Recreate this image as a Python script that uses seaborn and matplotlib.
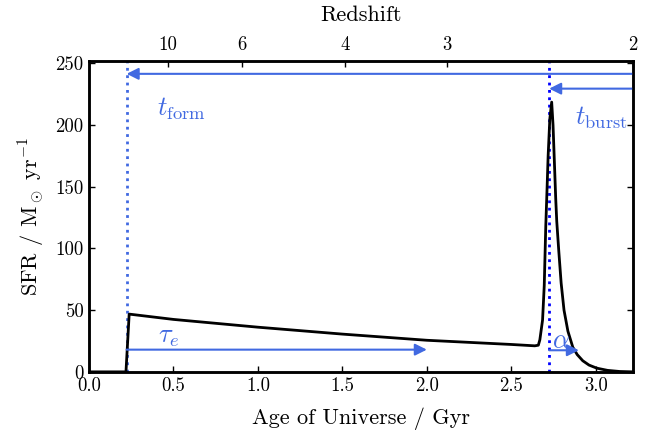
import matplotlib
matplotlib.use("Agg")
import matplotlib.pyplot as plt
import seaborn as sns
import pandas as pd

# Star formation history: delayed exponential main episode plus a late burst
age_gyr = [0.0, 0.219, 0.238, 0.5, 1.0, 1.5, 2.0, 2.5, 2.639, 2.660,
           2.669, 2.685, 2.695, 2.704, 2.712, 2.718, 2.728, 2.739, 2.747,
           2.755, 2.763, 2.769, 2.781, 2.795, 2.812, 2.835, 2.864, 2.89,
           2.923, 2.96, 3.006, 3.07, 3.142, 3.22]
sfr = [0.0, 0.0, 46.8, 42.5, 36.2, 30.6, 25.6, 22.2, 21.1, 21.6,
       26.0, 42.0, 70.0, 118.0, 150.0, 175.0, 205.0, 218.6, 200.0,
       170.0, 140.0, 122.0, 98.0, 72.0, 50.0, 33.0, 20.0, 14.0,
       9.0, 5.5, 3.0, 1.2, 0.3, 0.0]

# Redshift axis along the top
redshift_ticks = [10, 6, 4, 3, 2]
redshift_ages = [0.467, 0.905, 1.515, 2.118, 3.22]

# Parameters of the model
t_start = 0.223
t_burst_age = 2.724
tau_end = 2.0
alpha_end = 2.90
x_max = 3.22
y_max = 252

sns.set_style("ticks")
plt.rcParams.update({
    "font.family": "serif",
    "font.serif": ["cmr10", "DejaVu Serif"],
    "mathtext.fontset": "cm",
    "axes.formatter.use_mathtext": True,
    "axes.unicode_minus": False,
    "xtick.direction": "in",
    "ytick.direction": "in",
    "axes.linewidth": 1.8,
    "axes.edgecolor": "black",
    "xtick.color": "black",
    "ytick.color": "black",
    "text.color": "black",
    "axes.labelcolor": "black",
})

fig = plt.figure(figsize=(6.6, 4.38), dpi=100)
ax = fig.add_axes([0.1348, 0.151, 0.8242, 0.710])

df = pd.DataFrame({"age": age_gyr, "sfr": sfr})
sns.lineplot(data=df, x="age", y="sfr", ax=ax, color="black", lw=2.0,
             estimator=None, sort=False, zorder=3)

ax.set_xlim(0, x_max)
ax.set_ylim(0, y_max)
ax.set_xticks([0.0, 0.5, 1.0, 1.5, 2.0, 2.5, 3.0])
ax.set_xticklabels(["0.0", "0.5", "1.0", "1.5", "2.0", "2.5", "3.0"])
ax.set_yticks([0, 50, 100, 150, 200, 250])
ax.set_yticklabels(["0", "50", "100", "150", "200", "250"])
ax.tick_params(axis="both", which="major", labelsize=13.5, length=4,
               width=1.0, right=True, top=False, pad=4)
ax.set_xlabel("Age of Universe / Gyr", fontsize=16, labelpad=9)
ax.set_ylabel(r"SFR / M$_\odot$ yr$^{-1}$", fontsize=16, labelpad=6)

# Top axis in redshift
top = ax.twiny()
top.set_xlim(ax.get_xlim())
top.set_xticks(redshift_ages)
top.set_xticklabels([str(z) for z in redshift_ticks])
top.tick_params(axis="x", direction="in", labelsize=13.5, length=4, width=1.0,
                pad=5)
top.set_xlabel("Redshift", fontsize=16, labelpad=11)
for sp in top.spines.values():
    sp.set_linewidth(1.8)
    sp.set_edgecolor("black")

arrow_col = "royalblue"

# Formation time and burst time markers
ax.axvline(t_start, color=arrow_col, ls=":", lw=2.0, zorder=2)
ax.axvline(t_burst_age, color="blue", ls=":", lw=2.0, zorder=2)

def arrow(x0, x1, y):
    ax.annotate("", xy=(x1, y), xytext=(x0, y),
                arrowprops=dict(arrowstyle="-|>,head_length=0.7,head_width=0.35",
                                color=arrow_col, lw=1.5, shrinkA=0, shrinkB=0),
                annotation_clip=False, zorder=4)

arrow(x_max, t_start, 241.5)
arrow(x_max, t_burst_age, 229.5)
arrow(t_start, tau_end, 18.0)
arrow(t_burst_age, alpha_end, 17.5)

ax.text(0.40, 213, r"$t_{\rm form}$", color=arrow_col, fontsize=19,
        va="center", ha="left")
ax.text(2.876, 206, r"$t_{\rm burst}$", color=arrow_col, fontsize=19,
        va="center", ha="left")
ax.text(0.41, 28, r"$\tau_e$", color=arrow_col, fontsize=19,
        va="center", ha="left")
ax.text(2.74, 25, r"$\alpha$", color=arrow_col, fontsize=19,
        va="center", ha="left")

fig.savefig("out.png", dpi=100)
